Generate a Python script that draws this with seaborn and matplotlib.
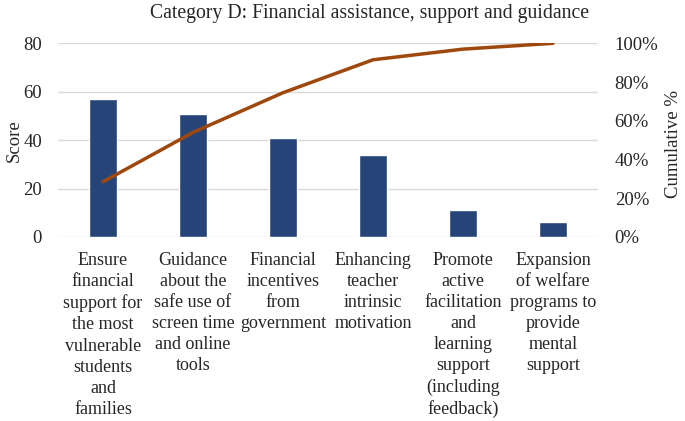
import numpy as np
import pandas as pd
import matplotlib
matplotlib.use("Agg")
import matplotlib.pyplot as plt
import seaborn as sns
from matplotlib.ticker import FuncFormatter

categories = [
    "Ensure\nfinancial\nsupport for\nthe most\nvulnerable\nstudents\nand\nfamilies",
    "Guidance\nabout the\nsafe use of\nscreen time\nand online\ntools",
    "Financial\nincentives\nfrom\ngovernment",
    "Enhancing\nteacher\nintrinsic\nmotivation",
    "Promote\nactive\nfacilitation\nand\nlearning\nsupport\n(including\nfeedback)",
    "Expansion\nof welfare\nprograms to\nprovide\nmental\nsupport",
]
scores = [57, 51, 41, 34, 11, 6]
cumulative_pct = [28.5, 54.0, 74.5, 91.5, 97.0, 100.0]
title = "Category D: Financial assistance, support and guidance"

sns.set_theme(style="white")
plt.rcParams['font.family'] = ['Liberation Serif', 'DejaVu Serif']

bar_color = "#264478"
line_color = "#9E480E"
fs = 13.5

df = pd.DataFrame({"category": categories, "score": scores, "cum": cumulative_pct,
                   "pos": np.arange(len(categories))})

fig = plt.figure(figsize=(6.85, 4.21), dpi=100)
ax = fig.add_axes([0.0847, 0.4371, 0.7883, 0.46])
sns.barplot(data=df, x="category", y="score", color=bar_color, width=0.31,
            saturation=1, ax=ax, zorder=2)
ax.set_ylim(0, 80)
ax.set_yticks([0, 20, 40, 60, 80])
ax.yaxis.grid(True, color="#D9D9D9", linewidth=1, zorder=0)
ax.set_axisbelow(True)
ax.set_xlabel("")
ax.set_ylabel("Score", fontsize=fs)
ax.yaxis.set_label_coords(-0.066, 0.5)
ax.tick_params(axis="y", length=0, labelsize=fs, pad=11.5)
ax.tick_params(axis="x", length=0, labelsize=13, pad=11)
for s in ax.spines.values():
    s.set_visible(False)
ax.set_xlim(-0.5, len(categories) - 0.5)

ax2 = ax.twinx()
sns.lineplot(data=df, x="pos", y="cum", color=line_color, linewidth=2.5, ax=ax2)
ax2.set_ylim(0, 100)
ax2.set_yticks([0, 20, 40, 60, 80, 100])
ax2.yaxis.set_major_formatter(FuncFormatter(lambda v, p: f"{int(v)}%"))
ax2.set_ylabel("Cumulative %", fontsize=fs)
ax2.yaxis.set_label_coords(1.124, 0.48)
ax2.tick_params(axis="y", length=0, labelsize=fs, pad=12)
for s in ax2.spines.values():
    s.set_visible(False)
ax2.set_xlim(-0.5, len(categories) - 0.5)
ax2.set_xlabel("")

for lbl in ax.get_xticklabels():
    lbl.set_verticalalignment("top")
    lbl.set_linespacing(1.31)

fig.text(0.54, 0.968, title, fontsize=14.2, ha="center", va="center")
fig.savefig("out.png", dpi=100)
